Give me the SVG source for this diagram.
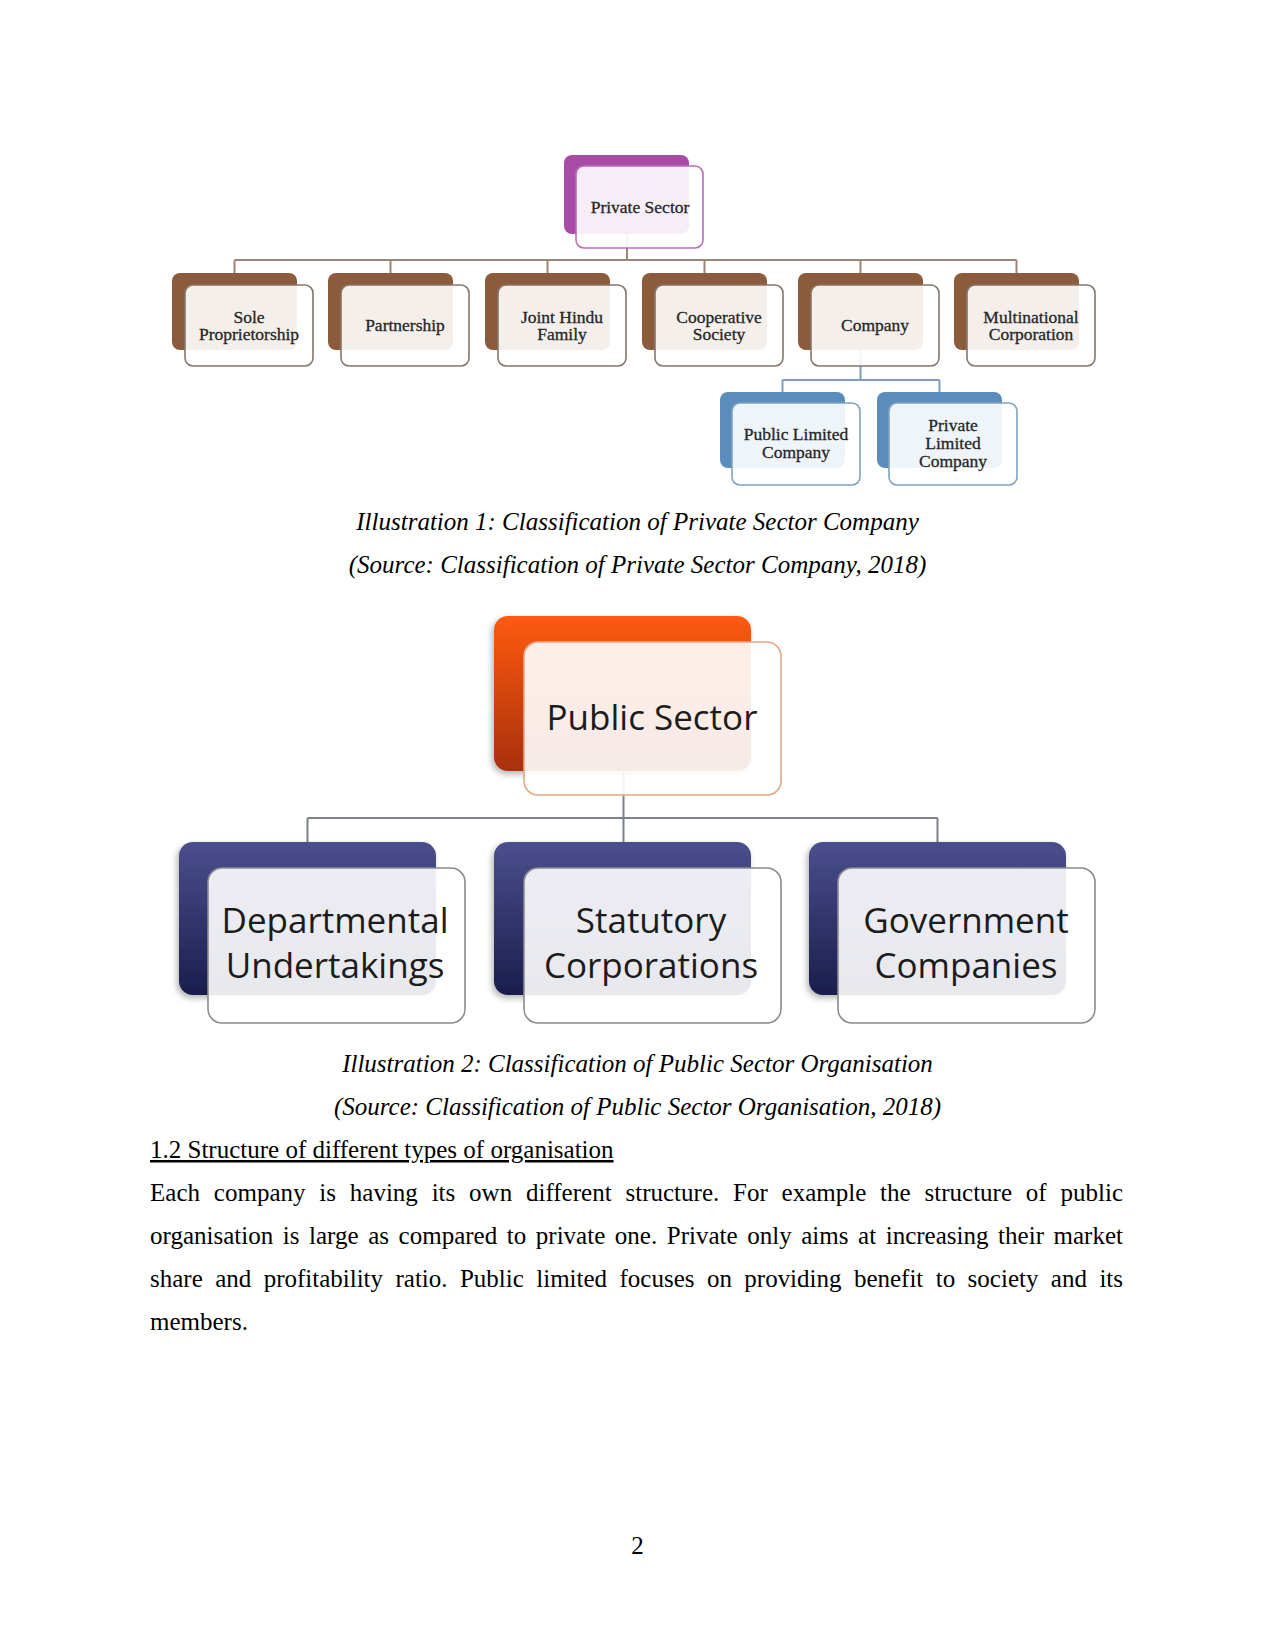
<svg xmlns="http://www.w3.org/2000/svg" width="1275" height="1650" viewBox="0 0 1275 1650">
<defs>
<linearGradient id="gOrange" x1="0" y1="0" x2="0" y2="1">
<stop offset="0" stop-color="#ff5a12"/>
<stop offset="1" stop-color="#a8300a"/>
</linearGradient>
<linearGradient id="gNavy" x1="0" y1="0" x2="0" y2="1">
<stop offset="0" stop-color="#4b4f8e"/>
<stop offset="1" stop-color="#1a1d4c"/>
</linearGradient>
<filter id="sh" x="-10%" y="-10%" width="125%" height="125%">
<feDropShadow dx="-2" dy="3" stdDeviation="3" flood-color="#000" flood-opacity="0.3"/>
</filter>
</defs>
<style>
.page{fill:#fff}
.bk{fill:#8c5b3b}
.pu{fill:#a84ca8}
.bl{fill:#5a8dbb}
.fr{fill:#fff;fill-opacity:0.9;stroke-width:1.6}
.frb{stroke:#85766d}
.frp{stroke:#b56fb5}
.frl{stroke:#7fa3c4}
.frn{stroke:#8a8a90}
.fro{stroke:#e3a784}
.st{font-family:"Liberation Serif","DejaVu Serif",serif;font-size:17.5px;fill:#262626;stroke:#262626;stroke-width:0.3;text-anchor:middle}
.ss{font-family:"Open Sans","DejaVu Sans",sans-serif;font-size:35px;fill:#1c1c1c;text-anchor:middle}
.c1{fill:none;stroke:#9c8576;stroke-width:2}
.c2{fill:none;stroke:#7d9fbf;stroke-width:2}
.c3{fill:none;stroke:#7c8090;stroke-width:2}
.cap{font-family:"Liberation Serif",serif;font-size:25px;font-style:italic;fill:#000;text-anchor:middle}
.bt{font-family:"Liberation Serif",serif;font-size:25px;fill:#000}
</style>
<rect class="page" x="0" y="0" width="1275" height="1650"/>

<g id="connectors">
<path class="c1" d="M627 234V260M234.5 260H1016.5M234.5 260V273M390.5 260V273M547.5 260V273M704.5 260V273M860.5 260V273M1016.5 260V273"/>
<path class="c2" d="M860.5 350V380M782.5 380H939.5M782.5 380V392M939.5 380V392"/>
<path class="c3" d="M623.5 771V818M307.5 818H937.5M307.5 818V842M623.5 818V842M937.5 818V842"/>
</g>

<g id="private-sector">
<rect class="pu" x="564" y="155" width="125" height="79" rx="8"/>
<rect class="fr frp" x="576" y="166" width="127" height="82" rx="8"/>
<text class="st" x="640" y="213">Private Sector</text>
</g>
<g id="sole-proprietorship">
<rect class="bk" x="172" y="273" width="125" height="77" rx="8"/>
<rect class="fr frb" x="185" y="285" width="128" height="81" rx="8"/>
<text class="st" x="249" y="322.5">Sole</text>
<text class="st" x="249" y="340">Proprietorship</text>
</g>
<g id="partnership">
<rect class="bk" x="328" y="273" width="125" height="77" rx="8"/>
<rect class="fr frb" x="341" y="285" width="128" height="81" rx="8"/>
<text class="st" x="405" y="331">Partnership</text>
</g>
<g id="joint-hindu-family">
<rect class="bk" x="485" y="273" width="125" height="77" rx="8"/>
<rect class="fr frb" x="498" y="285" width="128" height="81" rx="8"/>
<text class="st" x="562" y="322.5">Joint Hindu</text>
<text class="st" x="562" y="340">Family</text>
</g>
<g id="cooperative-society">
<rect class="bk" x="642" y="273" width="125" height="77" rx="8"/>
<rect class="fr frb" x="655" y="285" width="128" height="81" rx="8"/>
<text class="st" x="719" y="322.5">Cooperative</text>
<text class="st" x="719" y="340">Society</text>
</g>
<g id="company">
<rect class="bk" x="798" y="273" width="125" height="77" rx="8"/>
<rect class="fr frb" x="811" y="285" width="128" height="81" rx="8"/>
<text class="st" x="875" y="331">Company</text>
</g>
<g id="multinational-corporation">
<rect class="bk" x="954" y="273" width="125" height="77" rx="8"/>
<rect class="fr frb" x="967" y="285" width="128" height="81" rx="8"/>
<text class="st" x="1031" y="322.5">Multinational</text>
<text class="st" x="1031" y="340">Corporation</text>
</g>
<g id="public-limited-company">
<rect class="bl" x="720" y="392" width="125" height="76" rx="8"/>
<rect class="fr frl" x="732" y="403" width="128" height="82" rx="8"/>
<text class="st" x="796" y="440">Public Limited</text>
<text class="st" x="796" y="458">Company</text>
</g>
<g id="private-limited-company">
<rect class="bl" x="877" y="392" width="125" height="76" rx="8"/>
<rect class="fr frl" x="889" y="403" width="128" height="82" rx="8"/>
<text class="st" x="953" y="431">Private</text>
<text class="st" x="953" y="449">Limited</text>
<text class="st" x="953" y="467">Company</text>
</g>

<g id="public-sector">
<rect x="494" y="616" width="257" height="155" rx="14" fill="url(#gOrange)" filter="url(#sh)"/>
<rect class="fr fro" x="524" y="642" width="257" height="153" rx="14"/>
<text class="ss" x="652" y="730">Public Sector</text>
</g>
<g id="departmental-undertakings">
<rect x="179" y="842" width="257" height="153" rx="14" fill="url(#gNavy)" filter="url(#sh)"/>
<rect class="fr frn" x="208" y="868" width="257" height="155" rx="14"/>
<text class="ss" x="335" y="933">Departmental</text>
<text class="ss" x="335" y="978">Undertakings</text>
</g>
<g id="statutory-corporations">
<rect x="494" y="842" width="257" height="153" rx="14" fill="url(#gNavy)" filter="url(#sh)"/>
<rect class="fr frn" x="524" y="868" width="257" height="155" rx="14"/>
<text class="ss" x="651" y="933">Statutory</text>
<text class="ss" x="651" y="978">Corporations</text>
</g>
<g id="government-companies">
<rect x="809" y="842" width="257" height="153" rx="14" fill="url(#gNavy)" filter="url(#sh)"/>
<rect class="fr frn" x="838" y="868" width="257" height="155" rx="14"/>
<text class="ss" x="966" y="933">Government</text>
<text class="ss" x="966" y="978">Companies</text>
</g>

<text class="cap" x="637.5" y="530">Illustration 1: Classification of Private Sector Company</text>
<text class="cap" x="637.5" y="573">(Source: Classification of Private Sector Company, 2018)</text>
<text class="cap" x="637.5" y="1072">Illustration 2: Classification of Public Sector Organisation</text>
<text class="cap" x="637.5" y="1115">(Source: Classification of Public Sector Organisation, 2018)</text>
<text class="bt" x="150" y="1158" text-decoration="underline">1.2 Structure of different types of organisation</text>
<text class="bt" x="150" y="1201" word-spacing="7.5" textLength="973" lengthAdjust="spacing">Each company is having its own different structure. For example the structure of public</text>
<text class="bt" x="150" y="1244" word-spacing="3.3" textLength="973" lengthAdjust="spacing">organisation is large as compared to private one. Private only aims at increasing their market</text>
<text class="bt" x="150" y="1287" word-spacing="6.2" textLength="973" lengthAdjust="spacing">share and profitability ratio. Public limited focuses on providing benefit to society and its</text>
<text class="bt" x="150" y="1330">members.</text>
<text class="bt" x="637.5" y="1554" text-anchor="middle">2</text>
</svg>
